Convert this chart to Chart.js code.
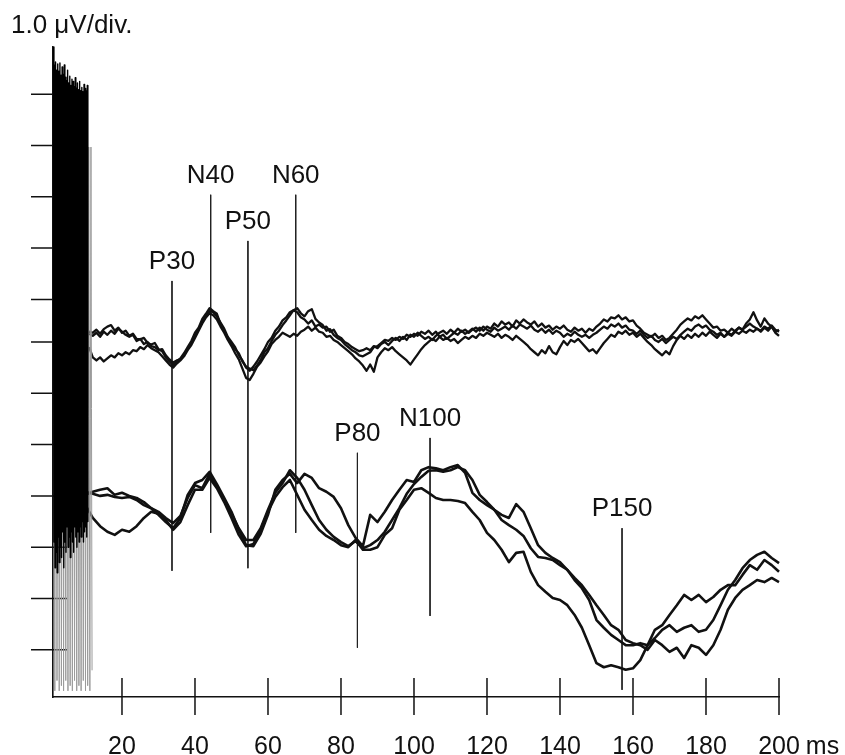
<!DOCTYPE html>
<html><head><meta charset="utf-8">
<script src="https://cdn.jsdelivr.net/npm/chart.js@4.4.1/dist/chart.umd.min.js"></script>
<style>html,body{margin:0;padding:0;background:#fff;}canvas{display:block;}</style>
</head><body>
<canvas id="c" width="845" height="755"></canvas>
<script>
// ---------- data ----------
const xTicks = [20, 40, 60, 80, 100, 120, 140, 160, 180, 200];
const xUnit = 'ms';
const yTicks = [4.83, 3.83, 2.83, 1.83, 0.83, 0, -1, -2, -3, -4, -5, -6];
const yUnitLabel = '1.0 \u03BCV/div.';
const xMin = 1.1, xMax = 200, yMin = -6.92, yMax = 5.75;

// upper group: 3 repetitions, sampled every 1 ms from 11 ms
const upperStart = 11, upperStep = 1;
const upperA = [0.20,0.18,0.24,0.16,0.25,0.30,0.33,0.22,0.28,0.18,
0.22,0.12,0.16,0.06,0.05,0.08,-0.02,-0.05,-0.02,-0.14,
-0.18,-0.30,-0.38,-0.45,-0.38,-0.32,-0.22,-0.10,0.02,0.18,
0.28,0.45,0.55,0.66,0.60,0.55,0.35,0.22,0.06,-0.04,
-0.14,-0.22,-0.38,-0.48,-0.52,-0.55,-0.46,-0.35,-0.20,-0.12,
0.02,0.14,0.22,0.33,0.42,0.52,0.62,0.66,0.56,0.50,
0.60,0.64,0.45,0.38,0.33,0.22,0.25,0.14,0.08,0.04,
-0.04,-0.10,-0.16,-0.20,-0.26,-0.28,-0.24,-0.20,-0.10,-0.08,
-0.02,0.04,0.02,0.08,0.04,0.10,0.06,0.14,0.10,0.16,
0.12,0.20,0.16,0.22,0.14,0.20,0.10,0.14,0.06,0.12,
0.18,0.14,0.22,0.16,0.20,0.26,0.20,0.28,0.22,0.30,
0.26,0.36,0.30,0.40,0.34,0.38,0.30,0.42,0.36,0.44,
0.38,0.34,0.40,0.30,0.36,0.28,0.32,0.24,0.30,0.26,
0.32,0.24,0.20,0.28,0.22,0.26,0.18,0.26,0.22,0.30,
0.36,0.44,0.40,0.48,0.46,0.52,0.44,0.48,0.40,0.42,
0.32,0.26,0.18,0.14,0.10,0.16,0.08,0.12,0.04,0.08,
0.16,0.24,0.34,0.40,0.46,0.42,0.50,0.46,0.52,0.44,
0.36,0.28,0.30,0.22,0.24,0.18,0.26,0.20,0.28,0.24,
0.30,0.36,0.30,0.26,0.20,0.28,0.22,0.30,0.20,0.24,
0.12,0.18];
const upperB = [0.16,0.12,0.18,0.10,0.20,0.14,0.22,0.16,0.26,0.20,
0.14,0.10,0.14,0.02,0.06,-0.04,0.00,-0.08,-0.10,-0.16,
-0.14,-0.26,-0.34,-0.40,-0.36,-0.34,-0.24,-0.14,-0.02,0.12,
0.26,0.40,0.50,0.60,0.58,0.50,0.38,0.26,0.10,0.00,
-0.10,-0.26,-0.36,-0.50,-0.56,-0.48,-0.38,-0.26,-0.14,0.00,
0.08,0.22,0.30,0.42,0.48,0.58,0.62,0.58,0.48,0.44,
0.36,0.42,0.30,0.34,0.28,0.30,0.20,0.24,0.12,0.08,
0.00,-0.04,-0.10,-0.14,-0.18,-0.16,-0.12,-0.16,-0.08,-0.12,
-0.04,0.00,-0.06,0.02,0.08,0.02,0.10,0.04,0.14,0.10,
0.18,0.12,0.06,0.10,0.04,0.12,0.18,0.22,0.16,0.24,
0.18,0.26,0.20,0.24,0.18,0.24,0.28,0.22,0.30,0.24,
0.20,0.28,0.22,0.26,0.30,0.24,0.32,0.26,0.34,0.30,
0.26,0.32,0.24,0.20,0.26,0.18,0.24,0.16,0.22,0.18,
0.10,0.16,0.12,0.20,0.14,0.10,0.14,0.08,0.14,0.18,
0.24,0.30,0.26,0.34,0.30,0.36,0.28,0.32,0.24,0.22,
0.16,0.22,0.14,0.08,0.12,0.04,0.00,0.06,-0.02,0.04,
0.10,0.06,0.14,0.20,0.26,0.22,0.30,0.34,0.28,0.32,
0.24,0.20,0.14,0.18,0.10,0.16,0.12,0.20,0.16,0.22,
0.18,0.24,0.20,0.26,0.22,0.30,0.26,0.32,0.24,0.20,
0.26,0.22];
const upperC = [-0.10,-0.30,-0.36,-0.30,-0.38,-0.32,-0.26,-0.30,-0.22,-0.26,
-0.20,-0.24,-0.16,-0.18,-0.10,-0.14,-0.06,-0.12,-0.16,-0.20,
-0.28,-0.36,-0.44,-0.50,-0.42,-0.36,-0.28,-0.16,-0.06,0.08,
0.22,0.36,0.48,0.56,0.52,0.44,0.30,0.18,0.04,-0.08,
-0.22,-0.34,-0.52,-0.70,-0.74,-0.62,-0.48,-0.40,-0.28,-0.18,
-0.04,0.04,0.10,0.18,0.14,0.10,0.16,0.12,0.20,0.24,
0.30,0.22,0.28,0.20,0.18,0.10,0.12,0.04,0.00,-0.06,
-0.12,-0.18,-0.24,-0.32,-0.38,-0.46,-0.56,-0.44,-0.58,-0.30,
-0.20,-0.12,-0.16,-0.10,-0.18,-0.24,-0.30,-0.36,-0.44,-0.34,
-0.24,-0.14,-0.06,0.00,0.06,0.02,0.10,0.04,0.08,0.02,
0.06,-0.02,0.04,0.10,0.06,0.12,0.08,0.16,0.12,0.18,
0.14,0.10,0.16,0.08,0.14,0.10,0.04,0.12,0.06,0.00,
-0.06,-0.14,-0.20,-0.26,-0.16,-0.22,-0.08,-0.20,-0.24,-0.10,
0.02,-0.06,0.04,0.00,0.06,-0.02,-0.10,-0.18,-0.14,-0.22,
-0.12,-0.02,0.06,0.14,0.10,0.20,0.16,0.22,0.14,0.18,
0.10,0.16,0.08,0.00,-0.06,-0.14,-0.20,-0.26,-0.18,-0.24,
-0.08,0.04,0.12,0.06,0.14,0.08,0.16,0.10,0.18,0.12,
0.20,0.14,0.08,0.16,0.10,0.18,0.14,0.22,0.28,0.24,
0.36,0.44,0.58,0.42,0.30,0.46,0.36,0.30,0.18,0.12,
0.04,0.10];

// lower group: 3 repetitions, sampled every 2 ms from 10 ms
const lowerStart = 10, lowerStep = 2;
const lowerE = [-2.98,-2.92,-2.88,-2.85,-2.98,-2.94,-3.00,-3.04,-3.12,-3.24,
-3.31,-3.43,-3.53,-3.39,-3.04,-2.79,-2.85,-2.57,-2.81,-3.08,
-3.35,-3.63,-3.86,-3.86,-3.63,-3.27,-2.94,-2.75,-2.50,-2.65,
-2.88,-3.18,-3.47,-3.66,-3.80,-3.90,-3.98,-3.88,-4.02,-3.96,
-3.86,-3.70,-3.47,-3.24,-2.96,-2.77,-2.63,-2.51,-2.50,-2.53,
-2.50,-2.44,-2.50,-2.69,-2.98,-3.12,-3.27,-3.37,-3.43,-3.16,
-3.31,-3.63,-3.96,-4.11,-4.21,-4.29,-4.44,-4.60,-4.74,-4.93,
-5.13,-5.32,-5.52,-5.61,-5.81,-5.87,-5.91,-6.00,-5.81,-5.91,
-6.04,-5.96,-6.16,-5.91,-5.96,-6.10,-5.91,-5.61,-5.22,-4.99,
-4.83,-4.74,-4.64,-4.68,-4.60,-4.68,-4.76];
const lowerG = [-2.92,-2.96,-3.00,-2.98,-3.02,-3.04,-3.02,-3.08,-3.18,-3.24,
-3.37,-3.51,-3.63,-3.43,-2.98,-2.75,-2.69,-2.53,-2.77,-3.04,
-3.31,-3.66,-3.96,-3.98,-3.74,-3.37,-2.88,-2.69,-2.57,-2.75,
-2.57,-2.65,-2.85,-2.92,-3.02,-3.24,-3.57,-3.82,-3.98,-3.37,
-3.51,-3.31,-3.08,-2.88,-2.69,-2.73,-2.50,-2.44,-2.46,-2.50,
-2.44,-2.40,-2.55,-2.94,-3.08,-3.18,-3.27,-3.47,-3.57,-3.66,
-3.78,-4.02,-4.19,-4.21,-4.25,-4.35,-4.44,-4.64,-4.80,-5.03,
-5.42,-5.57,-5.71,-5.81,-5.91,-5.91,-5.87,-5.91,-5.77,-5.61,
-5.52,-5.65,-5.57,-5.52,-5.65,-5.61,-5.42,-5.13,-4.83,-4.64,
-4.41,-4.25,-4.15,-4.09,-4.21,-4.31,-4.35];
const lowerF = [-3.18,-3.43,-3.59,-3.70,-3.76,-3.66,-3.70,-3.59,-3.43,-3.31,
-3.35,-3.47,-3.66,-3.51,-3.18,-2.88,-2.88,-2.65,-2.85,-3.12,
-3.43,-3.76,-3.98,-3.94,-3.66,-3.31,-3.02,-2.83,-2.69,-2.98,
-3.27,-3.47,-3.66,-3.78,-3.86,-3.96,-4.00,-3.86,-4.05,-4.05,
-4.00,-3.76,-3.63,-3.27,-3.08,-2.88,-2.85,-2.94,-3.04,-3.08,
-3.08,-3.10,-3.14,-3.31,-3.47,-3.72,-3.86,-4.05,-4.29,-4.11,
-4.09,-4.48,-4.74,-4.87,-4.99,-5.03,-5.13,-5.32,-5.57,-5.91,
-6.26,-6.34,-6.30,-6.34,-6.39,-6.36,-6.20,-5.91,-5.61,-5.52,
-5.32,-5.13,-4.93,-5.03,-4.93,-5.07,-4.97,-4.83,-4.74,-4.74,
-4.54,-4.35,-4.44,-4.25,-4.35,-4.48,-4.60];

// stimulus artifact (dense oscillation 1-12 ms)
const artifactTimes = [1.2,1.35,1.5,1.65,1.8,1.95,2.1,2.25,2.4,2.55,2.7,2.85,3.0,3.15,3.3,3.45,
3.6,3.75,3.9,4.05,4.2,4.35,4.5,4.65,4.8,4.95,5.1,5.25,5.4,5.55,5.7,5.85,
6.0,6.15,6.3,6.45,6.6,6.75,6.9,7.05,7.2,7.35,7.5,7.65,7.8,7.95,8.1,8.25,
8.4,8.55,8.7,8.85,9.0,9.15,9.3,9.45,9.6,9.75,9.9,10.05,10.2,10.35,10.5,10.65];
const artifactValues = [5.75,-3.9,5.40,-4.4,5.46,-4.1,5.30,-4.5,5.42,-3.8,5.28,-4.3,5.44,-4.0,5.20,-4.2,
5.36,-3.7,5.22,-4.4,5.40,-3.9,5.16,-4.1,5.10,-3.6,5.30,-4.0,5.05,-3.8,5.18,-4.2,
5.00,-3.7,5.12,-3.9,5.08,-4.1,4.98,-3.6,5.15,-3.8,4.95,-4.0,5.05,-3.7,4.92,-3.9,
5.08,-3.6,4.90,-3.8,4.96,-3.5,4.88,-3.9,5.02,-3.7,4.94,-3.6,4.90,-3.8,5.00,-3.5];
const artifactGreyTimes = [1.3,1.6,1.9,2.2,2.5,2.8,3.1,3.4,3.7,4.0,4.3,4.6,4.9,5.2,5.5,5.8,6.1,6.4,
6.7,7.0,7.3,7.6,7.9,8.2,8.5,8.8,9.1,9.4,9.7,10.0,10.3,10.6,10.9,11.2,11.5,11.8];
const artifactGreyValues = [3.5,-6.8,3.2,-6.6,3.6,-6.8,3.4,-6.7,3.3,-6.8,3.5,-6.6,3.1,-6.8,3.4,-6.7,3.2,-6.8,
3.5,-6.6,3.3,-6.8,3.6,-6.7,3.2,-6.8,3.4,-6.6,3.7,-6.8,3.5,-6.7,3.8,-6.8,3.8,-6.4];

// component markers
const peakNames = ['P30', 'N40', 'P50', 'N60', 'P80', 'N100', 'P150'];
const peakMs = [33.7, 44.3, 54.5, 67.6, 84.5, 104.4, 157.0];
const peakTop = [1.19, 2.87, 1.97, 2.87, -2.16, -1.87, -3.63];
const peakBottom = [-4.46, -3.72, -4.41, -3.72, -5.96, -5.34, -6.78];

// ---------- build ----------
const FONT = '"Liberation Sans", Arial, Helvetica, sans-serif';
const INK = '#111';
function series(start, step, vals) { return vals.map((v, i) => ({ x: start + i * step, y: v })); }
function pairs(xs, ys) { return xs.map((x, i) => ({ x: x, y: ys[i] })); }

const datasets = [];
datasets.push({ data: pairs(artifactTimes, artifactValues), borderColor: '#000', borderWidth: 1.4, order: 0 });
datasets.push({ data: pairs(artifactGreyTimes, artifactGreyValues), borderColor: '#9a9a9a', borderWidth: 1, order: 1 });
[upperA, upperB, upperC].forEach(v => datasets.push({ data: series(upperStart, upperStep, v), borderColor: INK, borderWidth: 2.3, order: 2 }));
[lowerE, lowerG, lowerF].forEach(v => datasets.push({ data: series(lowerStart, lowerStep, v), borderColor: INK, borderWidth: 2.6, order: 2 }));
peakMs.forEach((ms, i) => datasets.push({ data: [{ x: ms, y: peakTop[i] }, { x: ms, y: peakBottom[i] }], borderColor: '#222', borderWidth: 1, order: 3 }));

const decor = {
  id: 'decor',
  beforeDatasetsDraw(chart) {
    const ctx = chart.ctx, xs = chart.scales.x, ys = chart.scales.y, a = chart.chartArea;
    ctx.save();
    ctx.strokeStyle = INK; ctx.lineWidth = 1.5;
    ctx.beginPath();
    yTicks.forEach(v => { const py = ys.getPixelForValue(v); ctx.moveTo(a.left - 22, py); ctx.lineTo(a.left + 14, py); });
    xTicks.forEach(v => { const px = xs.getPixelForValue(v); ctx.moveTo(px, a.bottom - 19); ctx.lineTo(px, a.bottom + 18); });
    ctx.stroke();
    ctx.restore();
  },
  afterDraw(chart) {
    const ctx = chart.ctx, xs = chart.scales.x, ys = chart.scales.y, a = chart.chartArea;
    ctx.save();
    ctx.fillStyle = INK;
    ctx.textBaseline = 'alphabetic';
    ctx.font = '26px ' + FONT;
    ctx.textAlign = 'left';
    ctx.fillText(yUnitLabel, 11, 33);
    ctx.font = '25px ' + FONT;
    ctx.textAlign = 'center';
    xTicks.forEach(v => ctx.fillText(String(v), xs.getPixelForValue(v), a.bottom + 57));
    const last = xTicks[xTicks.length - 1];
    ctx.textAlign = 'left';
    ctx.fillText(xUnit, xs.getPixelForValue(last) + ctx.measureText(String(last)).width / 2 + 6, a.bottom + 57);
    ctx.font = '26px ' + FONT;
    ctx.textAlign = 'center';
    peakNames.forEach((n, i) => ctx.fillText(n, xs.getPixelForValue(peakMs[i]), ys.getPixelForValue(peakTop[i]) - 12));
    ctx.restore();
  }
};

new Chart(document.getElementById('c'), {
  type: 'line',
  data: { datasets },
  options: {
    responsive: false, animation: false, devicePixelRatio: 1,
    clip: false,
    layout: { padding: { left: 0, top: 47, right: 66, bottom: 0 } },
    elements: { point: { radius: 0 }, line: { tension: 0, borderCapStyle: 'butt', borderJoinStyle: 'round' } },
    plugins: { legend: { display: false }, tooltip: { enabled: false }, title: { display: false } },
    scales: {
      x: { type: 'linear', min: xMin, max: xMax,
           grid: { display: false }, ticks: { display: false },
           border: { display: true, color: INK, width: 1.6 },
           afterFit(s) { s.height = 58; } },
      y: { type: 'linear', min: yMin, max: yMax,
           grid: { display: false }, ticks: { display: false },
           border: { display: true, color: INK, width: 1.6 },
           afterFit(s) { s.width = 53; } }
    }
  },
  plugins: [decor]
});
</script>
</body></html>
